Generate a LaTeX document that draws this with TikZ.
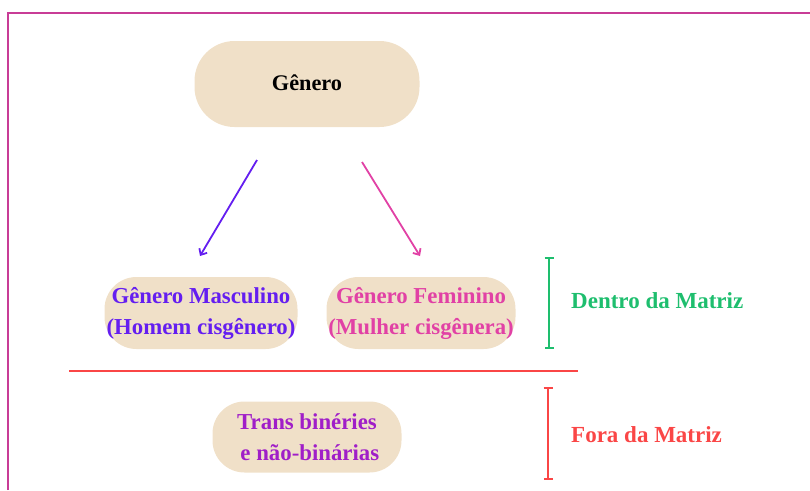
\documentclass[tikz,border=0pt]{standalone}
\usepackage{fontspec}
\setmainfont{Liberation Serif}
\usetikzlibrary{arrows.meta}
\definecolor{boxfill}{RGB}{240,224,200}
\definecolor{framec}{RGB}{200,60,150}
\definecolor{mascc}{RGB}{100,30,240}
\definecolor{femc}{RGB}{225,65,165}
\definecolor{transc}{RGB}{160,30,200}
\definecolor{greenc}{RGB}{30,190,110}
\definecolor{redc}{RGB}{250,70,70}
\begin{document}
\begin{tikzpicture}[x=1pt,y=-1pt,
  pill/.style={fill=boxfill,draw=none,align=center,inner sep=0pt,font=\fontsize{22.8}{31}\selectfont\bfseries},
  arr/.style={line width=1.8pt,-{Straight Barb[length=5pt,width=9pt,line width=1.8pt]}},
  brk/.style={line width=1.8pt,{Bar[width=9pt]}-{Bar[width=9pt]}},
  lab/.style={font=\fontsize{23}{26}\selectfont\bfseries,anchor=west,inner sep=0pt}]
\useasboundingbox (0,0) rectangle (810,490);
% frame
\draw[framec,line width=2pt] (8,490) -- (8,13) -- (810,13);
% nodes
\node[pill,minimum width=225pt,minimum height=86pt,rounded corners=40pt,font=\fontsize{22.3}{26}\selectfont\bfseries,text depth=0pt,text height=12pt] (gen) at (307,84) {Gênero};
\node[pill,minimum width=193pt,minimum height=72pt,rounded corners=32pt,text=mascc] (masc) at (201,313) {Gênero Masculino\\(Homem cisgênero)};
\node[pill,minimum width=189pt,minimum height=72pt,rounded corners=32pt,text=femc] (fem) at (421,313) {Gênero Feminino\\(Mulher cisgênera)};
\node[pill,minimum width=189pt,minimum height=71pt,rounded corners=32pt,text=transc] (trans) at (307,437) {Trans binéries\\\ e não-binárias};
% arrows
\coordinate (a1s) at (257,160);
\coordinate (a1e) at (200,256);
\coordinate (a2s) at (362,162);
\coordinate (a2e) at (420,256);
\draw[arr,mascc] (a1s) -- (a1e);
\draw[arr,femc] (a2s) -- (a2e);
% separator line
\coordinate (sepl) at (69,371);
\coordinate (sepr) at (578,371);
\draw[redc,line width=1.8pt] (sepl) -- (sepr);
% brackets
\coordinate (gb1) at (549,257);
\coordinate (gb2) at (549,349);
\draw[brk,greenc] (gb1) -- (gb2);
\coordinate (rb1) at (548,387);
\coordinate (rb2) at (548,480);
\draw[brk,redc] (rb1) -- (rb2);
\node[lab,text=greenc] (dentro) at (571,301) {Dentro da Matriz};
\node[lab,text=redc] (fora) at (571,435) {Fora da Matriz};
\end{tikzpicture}
\end{document}
